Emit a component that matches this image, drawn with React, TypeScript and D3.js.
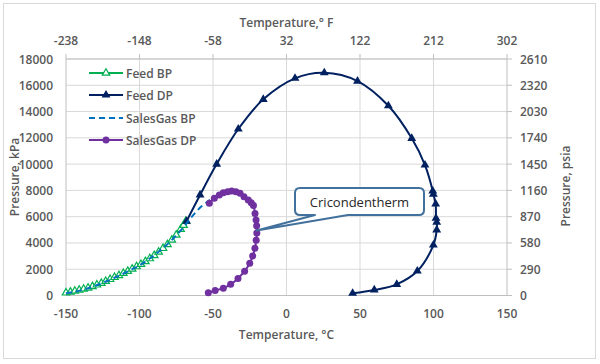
import React from 'react';
import * as d3 from 'd3';

// Feed bubble point curve (°C, kPa)
const feedBpT = [-150, -147, -144, -141, -138, -135, -132, -129, -126, -123, -120, -117, -114, -111, -108, -105, -102, -99, -96, -93, -90, -87, -84, -81, -78, -75, -72, -70, -68.5];
const feedBpP = [200, 270, 340, 410, 490, 580, 690, 810, 940, 1080, 1230, 1380, 1530, 1690, 1850, 2020, 2200, 2380, 2590, 2810, 3050, 3310, 3590, 3890, 4220, 4600, 5050, 5350, 5650];

// Feed dew point curve
const feedDpT = [-68, -58.8, -47.5, -32.8, -15.8, 5.8, 25.7, 48.3, 69.3, 85.2, 94.2, 99.5, 99.9, 101.5, 101.7, 102.2, 102.2, 99.9, 89, 75, 59.7, 45];
const feedDpP = [5650, 7650, 10000, 12670, 14930, 16530, 16950, 16320, 14440, 11960, 9930, 7950, 7720, 6960, 5880, 5570, 4990, 3840, 1860, 850, 420, 170];

// Sales gas bubble point curve
const sgBpT = [-150, -145, -140, -135, -130, -125, -120, -115, -110, -105, -100, -95, -90, -85, -80, -75, -70, -66, -62, -58, -54, -52];
const sgBpP = [170, 270, 390, 550, 740, 960, 1200, 1450, 1720, 2000, 2300, 2660, 3070, 3520, 4010, 4580, 5200, 5780, 6300, 6770, 7120, 7280];

// Sales gas dew point curve
const sgDpT = [-53.2, -48.5, -43, -38, -33, -28.5, -25, -23, -21.5, -20.6, -20.2, -20.3, -20.7, -21.4, -22.5, -24, -26, -28.9, -31.6, -34.4, -37.3, -40, -43, -45.7, -49.1, -52.5];
const sgDpP = [200, 380, 560, 850, 1300, 1850, 2450, 3000, 3600, 4200, 4750, 5300, 5750, 6250, 6850, 7050, 7270, 7520, 7780, 7900, 7950, 7900, 7820, 7650, 7400, 7020];

const cTicks = [-150, -100, -50, 0, 50, 100, 150];
const fTicks = [-238, -148, -58, 32, 122, 212, 302];
const kpaTicks = [0, 2000, 4000, 6000, 8000, 10000, 12000, 14000, 16000, 18000];
const psiaTicks = [0, 290, 580, 870, 1160, 1450, 1740, 2030, 2320, 2610];

const legendNames = ['Feed BP', 'Feed DP', 'SalesGas BP', 'SalesGas DP'];

const cricondenthermT = -20.3;
const cricondenthermP = 4950;

const FONT = '"Open Sans", "Liberation Sans", sans-serif';
const GREEN = '#00b050';
const NAVY = '#002060';
const BLUE = '#0070c0';
const PURPLE = '#7030a0';
const TXT = '#595959';

export default function App() {
  const x = d3.scaleLinear().domain([-150, 150]).range([66, 507]);
  const xTop = d3.scaleLinear().domain([-238, 302]).range([66, 507]);
  const y = d3.scaleLinear().domain([0, 18000]).range([295.5, 59]);
  const yRight = d3.scaleLinear().domain([0, 2610]).range([295.5, 59]);

  const line = d3
    .line<[number, number]>()
    .x((d) => x(d[0]))
    .y((d) => y(d[1]))
    .curve(d3.curveCatmullRom.alpha(0.5));

  const zip = (a: number[], b: number[]) => a.map((v, i) => [v, b[i]] as [number, number]);
  const feedBp = zip(feedBpT, feedBpP);
  const feedDp = zip(feedDpT, feedDpP);
  const sgBp = zip(sgBpT, sgBpP);
  const sgDp = zip(sgDpT, sgDpP);

  const tri = d3.symbol().type(d3.symbolTriangle).size(34)() as string;
  const triSmall = d3.symbol().type(d3.symbolTriangle).size(24)() as string;

  // callout
  const tipX = x(cricondenthermT);
  const tipY = y(cricondenthermP);
  const bx0 = 295, bx1 = 424, by0 = 188, by1 = 215, r = 5;
  const callout =
    `M${bx0 + r},${by0} H${bx1 - r} Q${bx1},${by0} ${bx1},${by0 + r} V${by1 - r} Q${bx1},${by1} ${bx1 - r},${by1}` +
    ` H348 L${tipX},${tipY} L315,${by1} H${bx0 + r} Q${bx0},${by1} ${bx0},${by1 - r} V${by0 + r} Q${bx0},${by0} ${bx0 + r},${by0} Z`;

  const legendY = [73, 95, 118, 140];

  return (
    <div style={{ position: 'absolute', left: 0, top: 0 }}>
      <svg width={600} height={364} style={{ display: 'block', fontFamily: FONT }}>
        <rect x={0} y={0} width={600} height={364} fill="#fff" />
        <rect x={3.5} y={3.5} width={592} height={355} fill="#fff" stroke="#d9d9d9" />

        {/* gridlines */}
        {kpaTicks.slice(1).map((t) => (
          <line key={'gy' + t} x1={x(-150)} x2={x(150)} y1={y(t)} y2={y(t)} stroke="#d9d9d9" strokeWidth={1} />
        ))}
        {cTicks.slice(1, -1).map((t) => (
          <line key={'gx' + t} x1={x(t)} x2={x(t)} y1={y(0)} y2={y(18000)} stroke="#d9d9d9" strokeWidth={1} />
        ))}

        {/* axes */}
        <line x1={x(-150)} x2={x(150)} y1={y(0)} y2={y(0)} stroke="#bfbfbf" />
        <line x1={x(-150)} x2={x(-150)} y1={y(0)} y2={y(18000)} stroke="#bfbfbf" />
        <line x1={x(150)} x2={x(150)} y1={y(0)} y2={y(18000)} stroke="#bfbfbf" />
        <line x1={x(-150)} x2={x(150)} y1={y(18000)} y2={y(18000)} stroke="#bfbfbf" />
        {fTicks.map((t) => (
          <line key={'tf' + t} x1={xTop(t)} x2={xTop(t)} y1={y(18000) - 5} y2={y(18000)} stroke="#bfbfbf" />
        ))}
        {psiaTicks.map((t) => (
          <line key={'tp' + t} x1={x(150)} x2={x(150) + 5} y1={yRight(t)} y2={yRight(t)} stroke="#bfbfbf" />
        ))}

        {/* tick labels */}
        <g fontSize={12} fontWeight={600} fill={TXT}>
          {cTicks.map((t) => (
            <text key={'lc' + t} x={x(t)} y={313} textAnchor="middle" dominantBaseline="central">{t}</text>
          ))}
          {fTicks.map((t) => (
            <text key={'lf' + t} x={xTop(t)} y={40} textAnchor="middle" dominantBaseline="central">{t}</text>
          ))}
          {kpaTicks.map((t) => (
            <text key={'lk' + t} x={53} y={y(t)} textAnchor="end" dominantBaseline="central">{t}</text>
          ))}
          {psiaTicks.map((t) => (
            <text key={'lp' + t} x={520} y={yRight(t)} textAnchor="start" dominantBaseline="central">{t}</text>
          ))}
          <text x={286.5} y={22} textAnchor="middle" dominantBaseline="central">Temperature,° F</text>
          <text x={286.5} y={334} textAnchor="middle" dominantBaseline="central">Temperature, °C</text>
          <text transform="translate(14,177) rotate(-90)" textAnchor="middle" dominantBaseline="central">Pressure, kPa</text>
          <text transform="translate(565,186) rotate(-90)" textAnchor="middle" dominantBaseline="central">Pressure, psia</text>
        </g>

        {/* Feed BP */}
        <path d={line(feedBp) || ''} fill="none" stroke={GREEN} strokeWidth={1.5} />
        {feedBp.map((d, i) => (
          <path key={'fb' + i} d={triSmall} transform={`translate(${x(d[0])},${y(d[1])})`} fill="#fff" stroke={GREEN} strokeWidth={1.2} />
        ))}

        {/* Feed DP */}
        <path d={line(feedDp) || ''} fill="none" stroke={NAVY} strokeWidth={2} />
        {feedDp.map((d, i) => (
          <path key={'fd' + i} d={tri} transform={`translate(${x(d[0])},${y(d[1])})`} fill={NAVY} />
        ))}

        {/* SalesGas BP */}
        <path d={line(sgBp) || ''} fill="none" stroke={BLUE} strokeWidth={2} strokeDasharray="6,4" />

        {/* SalesGas DP */}
        <path d={line(sgDp) || ''} fill="none" stroke={PURPLE} strokeWidth={2} />
        {sgDp.map((d, i) => (
          <circle key={'sd' + i} cx={x(d[0])} cy={y(d[1])} r={3.5} fill={PURPLE} />
        ))}

        {/* legend */}
        <g fontSize={12} fontWeight={600} fill={TXT}>
          {legendNames.map((name, i) => {
            const ly = legendY[i];
            const colors = [GREEN, NAVY, BLUE, PURPLE];
            return (
              <g key={name}>
                <line x1={89} x2={123} y1={ly} y2={ly} stroke={colors[i]} strokeWidth={2} strokeDasharray={i === 2 ? '6,4' : undefined} />
                {i === 0 && <path d={triSmall} transform={`translate(106,${ly})`} fill="#fff" stroke={GREEN} strokeWidth={1.2} />}
                {i === 1 && <path d={tri} transform={`translate(106,${ly})`} fill={NAVY} />}
                {i === 3 && <circle cx={106} cy={ly} r={3.5} fill={PURPLE} />}
                <text x={126} y={ly} dominantBaseline="central">{name}</text>
              </g>
            );
          })}
        </g>

        {/* callout */}
        <path d={callout} fill="#fff" stroke="#41719c" strokeWidth={2} strokeLinejoin="round" />
        <text x={359.5} y={202} fontSize={13} fill="#262626" textAnchor="middle" dominantBaseline="central">Cricondentherm</text>
      </svg>
    </div>
  );
}
